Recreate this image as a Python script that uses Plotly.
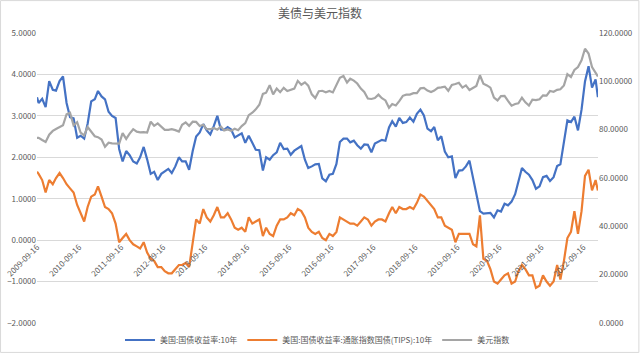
import pandas as pd
import plotly.graph_objects as go

# Month-end values, Sep 2009 .. Dec 2022 (160 months), plus first/last observations
start_date = "2009-09-16"
end_date = "2023-01-20"

ust10 = [
    3.31, 3.41, 3.21, 3.84,                                              # 2009 Sep-Dec
    3.63, 3.61, 3.84, 3.95, 3.31, 2.97, 2.94, 2.47, 2.52, 2.45, 2.81, 3.35,  # 2010
    3.40, 3.60, 3.47, 3.40, 3.10, 3.00, 2.95, 2.20, 1.90, 2.15, 2.05, 1.90,  # 2011
    1.85, 2.00, 2.25, 1.95, 1.60, 1.65, 1.45, 1.60, 1.65, 1.72, 1.62, 1.78,  # 2012
    2.00, 1.90, 1.90, 1.70, 2.15, 2.50, 2.60, 2.80, 2.65, 2.55, 2.75, 3.00,  # 2013
    2.67, 2.66, 2.73, 2.67, 2.48, 2.53, 2.58, 2.35, 2.52, 2.35, 2.18, 2.17,  # 2014
    1.68, 2.00, 1.94, 2.05, 2.12, 2.35, 2.20, 2.21, 2.06, 2.16, 2.21, 2.27,  # 2015
    1.94, 1.74, 1.78, 1.83, 1.84, 1.49, 1.42, 1.58, 1.60, 1.84, 2.37, 2.45,  # 2016
    2.45, 2.36, 2.40, 2.29, 2.21, 2.31, 2.30, 2.12, 2.33, 2.38, 2.42, 2.40,  # 2017
    2.72, 2.87, 2.74, 2.95, 2.83, 2.85, 2.96, 2.86, 3.05, 3.15, 3.01, 2.69,  # 2018
    2.63, 2.73, 2.41, 2.51, 2.14, 2.00, 2.02, 1.50, 1.68, 1.69, 1.78, 1.92,  # 2019
    1.51, 1.13, 0.70, 0.64, 0.65, 0.66, 0.55, 0.72, 0.69, 0.88, 0.84, 0.93,  # 2020
    1.11, 1.44, 1.74, 1.65, 1.58, 1.45, 1.24, 1.30, 1.52, 1.55, 1.43, 1.52,  # 2021
    1.79, 1.83, 2.32, 2.89, 2.85, 2.98, 2.65, 3.15, 3.83, 4.20, 3.68, 3.88,  # 2022
]
ust10_first, ust10_last = 3.45, 3.45

tips10 = [
    1.60, 1.45, 1.15, 1.45,
    1.35, 1.50, 1.62, 1.50, 1.35, 1.25, 1.15, 0.85, 0.65, 0.45, 0.80, 1.05,
    1.10, 1.30, 1.05, 0.80, 0.75, 0.65, 0.40, -0.05, 0.05, 0.15, 0.00, -0.10,
    -0.15, -0.20, -0.05, -0.30, -0.45, -0.50, -0.65, -0.65, -0.75, -0.80, -0.80, -0.70,
    -0.60, -0.60, -0.55, -0.65, -0.05, 0.50, 0.40, 0.75, 0.55, 0.45, 0.60, 0.80,
    0.55, 0.55, 0.65, 0.50, 0.30, 0.25, 0.30, 0.20, 0.55, 0.40, 0.45, 0.50,
    0.10, 0.30, 0.15, 0.10, 0.35, 0.50, 0.50, 0.55, 0.65, 0.60, 0.75, 0.70,
    0.55, 0.30, 0.20, 0.15, 0.20, 0.05, 0.00, 0.15, 0.10, 0.20, 0.55, 0.50,
    0.45, 0.40, 0.40, 0.35, 0.45, 0.55, 0.50, 0.35, 0.45, 0.50, 0.50, 0.45,
    0.65, 0.80, 0.65, 0.80, 0.75, 0.75, 0.80, 0.75, 0.90, 1.10, 1.05, 0.95,
    0.85, 0.75, 0.55, 0.55, 0.35, 0.30, 0.25, -0.05, 0.15, 0.15, 0.15, 0.15,
    -0.10, -0.15, 0.60, -0.45, -0.50, -0.70, -1.00, -1.05, -0.95, -0.85, -0.80, -1.05,
    -1.00, -0.75, -0.60, -0.70, -0.85, -0.85, -1.15, -1.10, -0.85, -1.00, -1.10, -1.00,
    -0.60, -0.95, -0.50, 0.05, 0.20, 0.70, 0.15, 0.70, 1.55, 1.70, 1.20, 1.45,
]
tips10_first, tips10_last = 1.65, 1.20

dxy = [
    76.6, 75.7, 74.9, 77.9,
    79.5, 80.3, 81.0, 81.8, 86.4, 87.0, 81.7, 83.1, 78.8, 77.6, 81.1, 79.0,
    77.3, 76.9, 75.9, 72.9, 74.6, 74.3, 74.1, 74.2, 78.6, 76.2, 78.4, 80.2,
    79.2, 78.9, 79.0, 78.8, 83.3, 81.6, 82.6, 81.2, 79.9, 79.9, 80.2, 79.8,
    79.2, 82.0, 83.0, 81.6, 83.3, 83.2, 81.5, 82.0, 80.2, 80.2, 80.7, 80.0,
    81.3, 79.7, 80.1, 79.5, 80.4, 79.8, 81.5, 82.7, 86.0, 87.0, 88.4, 90.3,
    94.8, 95.3, 98.4, 94.6, 97.0, 95.5, 97.3, 96.0, 96.4, 97.0, 100.2, 98.6,
    99.6, 98.2, 94.6, 93.1, 95.9, 96.1, 95.5, 96.0, 95.4, 98.4, 101.5, 102.2,
    99.5, 101.1, 100.3, 99.1, 97.0, 95.6, 92.9, 92.7, 93.1, 94.5, 93.0, 92.1,
    89.1, 90.6, 90.0, 91.8, 94.0, 94.5, 94.5, 95.1, 95.1, 97.1, 97.3, 96.2,
    95.6, 96.2, 97.3, 97.5, 97.8, 96.1, 98.5, 98.9, 99.4, 97.4, 98.3, 96.4,
    97.4, 98.1, 102.5, 99.0, 98.3, 97.4, 93.3, 92.1, 93.9, 94.0, 91.9, 89.9,
    90.6, 90.9, 93.2, 91.3, 90.0, 92.4, 92.2, 92.6, 94.2, 94.1, 96.0, 95.7,
    96.5, 96.7, 98.3, 103.0, 101.8, 104.7, 105.9, 108.7, 113.5, 111.5, 105.9, 103.5,
]
dxy_first, dxy_last = 76.6, 102.0

tick_labels = [f"{y}-09-16" for y in range(2009, 2023)]

series_names = ["美国:国债收益率:10年", "美国:国债收益率:通胀指数国债(TIPS):10年", "美元指数"]
colors = ["#4472C4", "#ED7D31", "#A5A5A5"]

month_ends = list(pd.date_range("2009-10-01", periods=len(ust10), freq="MS") - pd.Timedelta(days=1))
dates = [pd.Timestamp(start_date)] + month_ends + [pd.Timestamp(end_date)]

y_ust = [ust10_first] + ust10 + [ust10_last]
y_tips = [tips10_first] + tips10 + [tips10_last]
y_dxy = [dxy_first] + dxy + [dxy_last]

font_family = "Noto Sans CJK SC, Noto Sans, sans-serif"
txt = "#595959"

fig = go.Figure()
fig.add_trace(go.Scatter(x=dates, y=y_ust, name=series_names[0], mode="lines",
                         line=dict(color=colors[0], width=2.2), yaxis="y"))
fig.add_trace(go.Scatter(x=dates, y=y_tips, name=series_names[1], mode="lines",
                         line=dict(color=colors[1], width=2.2), yaxis="y"))
fig.add_trace(go.Scatter(x=dates, y=y_dxy, name=series_names[2], mode="lines",
                         line=dict(color=colors[2], width=2.2), yaxis="y2"))

L, R, T, B = 37, 42, 33, 30
W, H = 640, 353
pw, ph = W - L - R, H - T - B

fig.update_layout(
    width=W, height=H,
    margin=dict(l=L, r=R, t=T, b=B, autoexpand=False),
    paper_bgcolor="white", plot_bgcolor="white",
    font=dict(family=font_family, size=8, color=txt),
    title=dict(text="美债与美元指数", x=0.5, xanchor="center", y=1 - 14 / H, yanchor="middle",
               yref="container", font=dict(size=12, color=txt, family=font_family)),
    showlegend=True,
    legend=dict(orientation="h", x=0.5, xanchor="center", y=-(340 - (H - B)) / ph, yanchor="middle",
                font=dict(size=8, color=txt), itemwidth=30, bgcolor="rgba(0,0,0,0)"),
    xaxis=dict(type="date", range=[start_date, "2023-01-21"], automargin=False,
               tickvals=tick_labels, ticktext=tick_labels, tickangle=-45,
               anchor="free", position=2 / 7, showgrid=False, showline=False, zeroline=False,
               ticks="", tickfont=dict(size=8, color=txt)),
    yaxis=dict(range=[-2, 5], dtick=1, tick0=0, tickformat=".4f", gridcolor="#D9D9D9", gridwidth=1,
               automargin=False, zeroline=False, showline=False, ticks="", tickfont=dict(size=8, color=txt)),
    yaxis2=dict(range=[0, 120], dtick=20, tick0=0, tickformat=".4f", overlaying="y", side="right",
                automargin=False, showgrid=False, zeroline=False, showline=False, ticks="",
                tickfont=dict(size=8, color=txt)),
    shapes=[dict(type="rect", xref="paper", yref="paper",
                 x0=-L / pw + 0.001, x1=1 + R / pw - 0.002, y0=-B / ph + 0.002, y1=1 + T / ph - 0.002,
                 line=dict(color="#D9D9D9", width=1), fillcolor="rgba(0,0,0,0)", layer="below")],
)

fig.write_html("out.html")
